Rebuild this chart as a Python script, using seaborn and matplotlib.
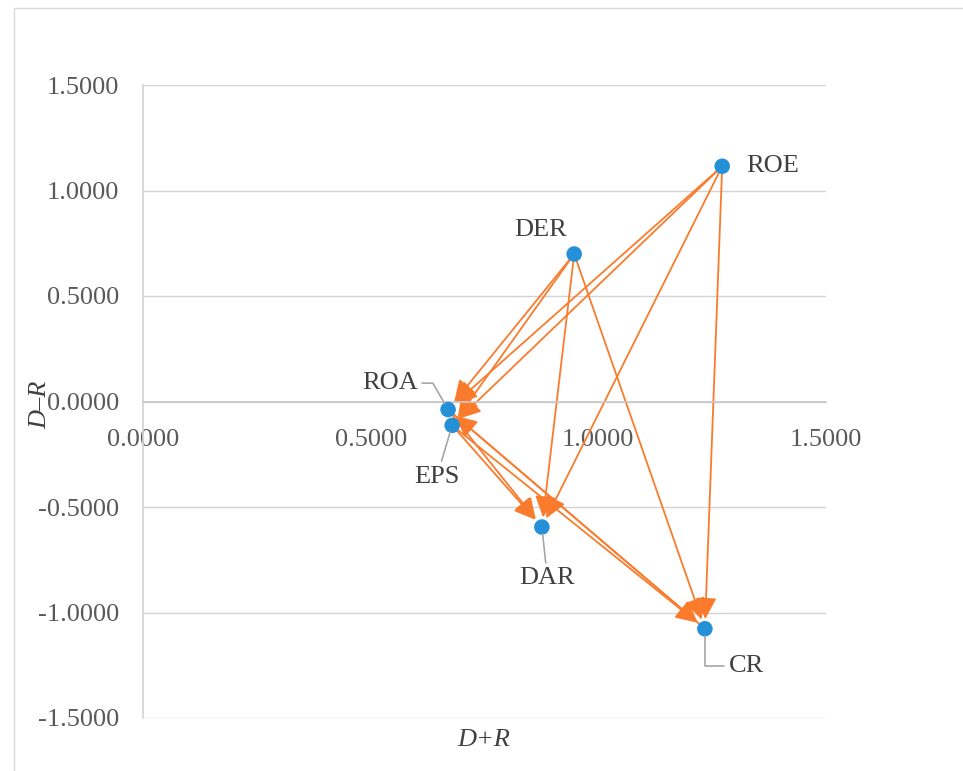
import pandas as pd
import seaborn as sns
import matplotlib.pyplot as plt
from matplotlib.patches import Rectangle
from matplotlib.ticker import FormatStrFormatter, MultipleLocator

# indicator positions on the cause/effect diagram
indicators = ['ROE', 'DER', 'ROA', 'EPS', 'DAR', 'CR']
d_plus_r = [1.272, 0.947, 0.670, 0.679, 0.876, 1.234]
d_minus_r = [1.115, 0.699, -0.038, -0.113, -0.595, -1.077]

# influence arrows (cause -> effect)
cause = ['ROE', 'ROE', 'ROE', 'ROE', 'DER', 'DER', 'DER', 'DER',
         'ROA', 'ROA', 'EPS', 'EPS', 'CR']
effect = ['ROA', 'EPS', 'DAR', 'CR', 'ROA', 'EPS', 'DAR', 'CR',
          'DAR', 'CR', 'DAR', 'CR', 'ROA']

df = pd.DataFrame({'name': indicators, 'x': d_plus_r, 'y': d_minus_r})
pos = {n: (x, y) for n, x, y in zip(indicators, d_plus_r, d_minus_r)}

sns.set_theme(style='white')
plt.rcParams['font.family'] = ['Liberation Serif', 'DejaVu Serif']

fig = plt.figure(figsize=(9.63, 7.71), dpi=100)
ax = fig.add_axes([143 / 963, 1 - 718 / 771, 683 / 963, 633 / 771])

blue = '#2490D8'
orange = '#FA7B2C'
grey = '#D4D4D4'
txt = '#404040'

for a, b in zip(cause, effect):
    ax.annotate('', xy=pos[b], xytext=pos[a],
                arrowprops=dict(arrowstyle='-|>,head_length=0.65,head_width=0.32',
                                color=orange, lw=1.3, mutation_scale=20,
                                shrinkA=0, shrinkB=7), zorder=2)

sns.scatterplot(data=df, x='x', y='y', s=125, color=blue, edgecolor='none',
                ax=ax, zorder=3, legend=False)

# label placement (offset in points, alignment, leader style)
label_layout = {
    'ROE': ((17, 0), 'left', None),
    'DER': ((-24, 17), 'center', None),
    'ROA': ((-22, 19), 'right', 'angle,angleA=0,angleB=120,rad=0'),
    'EPS': ((-11, -37), 'center', 'arc3'),
    'DAR': ((4, -37), 'center', 'arc3'),
    'CR': ((17, -27), 'left', 'angle,angleA=0,angleB=90,rad=0'),
}
for name, (off, ha, conn) in label_layout.items():
    kw = {}
    if conn:
        rel = {'left': (0, 0.5), 'right': (1, 0.5), 'center': (0.5, 0.5)}[ha]
        kw['arrowprops'] = dict(arrowstyle='-', color='#A6A6A6', lw=1.2,
                                shrinkA=1, shrinkB=5, connectionstyle=conn,
                                relpos=rel)
    ax.annotate(name, xy=pos[name], xytext=off, textcoords='offset points',
                ha=ha, va='center', fontsize=19, color=txt, zorder=4, **kw)

ax.set_xlim(0, 1.5)
ax.set_ylim(-1.5, 1.5)
ax.xaxis.set_major_locator(MultipleLocator(0.5))
ax.yaxis.set_major_locator(MultipleLocator(0.5))
ax.xaxis.set_major_formatter(FormatStrFormatter('%.4f'))
ax.yaxis.set_major_formatter(FormatStrFormatter('%.4f'))
ax.set_xlabel('')
ax.set_ylabel('')
ax.grid(axis='y', color=grey, lw=1)
ax.grid(axis='x', visible=False)
ax.set_axisbelow(True)

for s in ['top', 'right']:
    ax.spines[s].set_visible(False)
ax.spines['bottom'].set_position(('data', 0))
ax.spines['bottom'].set_color('#C8C8C8')
ax.spines['left'].set_color(grey)
ax.tick_params(axis='x', length=0, pad=20, labelsize=19, labelcolor='#595959')
ax.tick_params(axis='y', length=0, pad=17, labelsize=19, labelcolor='#595959')
for lab in ax.get_xticklabels():
    lab.set_clip_on(False)

fig.text(484 / 963, 1 - 740 / 771, 'D+R', ha='center', va='center',
         fontsize=19, style='italic', color=txt)
fig.text(40 / 963, 1 - 405 / 771, 'D\u2013R', ha='center', va='center',
         fontsize=19, style='italic', color=txt, rotation=90)

fig.patches.append(Rectangle((14 / 963, -0.1), 1.2, 1.1 - 8 / 771,
                             transform=fig.transFigure, fill=False,
                             edgecolor='#D9D9D9', lw=1))

fig.savefig('out.png', dpi=100)
